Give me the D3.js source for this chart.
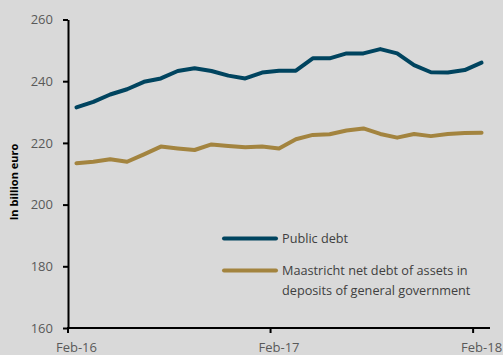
<!DOCTYPE html>
<html>
<head>
<meta charset="utf-8">
<script src="https://cdn.jsdelivr.net/npm/d3@7"></script>
<style>
  body { margin: 0; background: #d9d9d9; }
  svg { display: block; font-family: "Open Sans", sans-serif; }
</style>
</head>
<body>
<div id="chart"></div>
<script>
"use strict";

// data
var months = ["Feb-16","Mar-16","Apr-16","May-16","Jun-16","Jul-16","Aug-16","Sep-16","Oct-16","Nov-16","Dec-16","Jan-17",
    "Feb-17","Mar-17","Apr-17","May-17","Jun-17","Jul-17","Aug-17","Sep-17","Oct-17","Nov-17","Dec-17","Jan-18","Feb-18"];
var publicDebt = [231.5, 233.3, 235.7, 237.4, 239.8, 240.9, 243.3, 244.2, 243.3, 241.8, 240.9, 242.8,
    243.4, 243.4, 247.4, 247.4, 249.0, 249.0, 250.4, 249.0, 245.2, 242.9, 242.8, 243.6, 246.0];
var netDebt = [213.4, 213.9, 214.7, 213.9, 216.3, 218.8, 218.2, 217.7, 219.5, 219.0, 218.6, 218.8,
    218.2, 221.2, 222.6, 222.8, 224.0, 224.7, 222.9, 221.7, 222.9, 222.2, 222.9, 223.2, 223.3];
var yTicks = [160, 180, 200, 220, 240, 260];
var xLabels = ["Feb-16", "Feb-17", "Feb-18"];

var series = [
    { name: "Public debt", values: publicDebt, color: "#00445f" },
    { name: "Maastricht net debt of assets in|deposits of general government", values: netDebt, color: "#a3843f" }
];

var W = 503, H = 355;

var svg = d3.select("#chart")
    .append("svg")
    .attr("width", W)
    .attr("height", H);

svg.append("rect").attr("width", W).attr("height", H).attr("fill", "#d9d9d9");

// scales
var x = d3.scaleBand()
    .domain(months)
    .range([68, 490])
    .padding(0);

var y = d3.scaleLinear()
    .domain([160, 260])
    .range([328, 19.5]);

var cx = d => x(d) + x.bandwidth() / 2;

// y axis
var yAxis = svg.append("g")
    .attr("transform", "translate(68,0)")
    .call(d3.axisLeft(y).tickValues(yTicks).tickSize(5).tickPadding(10).tickSizeOuter(0));
yAxis.select(".domain").attr("stroke", "#000").attr("stroke-width", 2);
yAxis.selectAll(".tick line").attr("stroke", "#000").attr("stroke-width", 2);
yAxis.selectAll("text")
    .attr("fill", "#595959")
    .style("font-size", "13px")
    .style("font-family", "Open Sans");

// x axis line
svg.append("line")
    .attr("x1", 67).attr("x2", 490)
    .attr("y1", y(160)).attr("y2", y(160))
    .attr("stroke", "#000").attr("stroke-width", 2);

// x ticks at band edges
svg.selectAll(".xtick")
    .data(xLabels)
    .join("line")
    .attr("class", "xtick")
    .attr("x1", d => x(d)).attr("x2", d => x(d))
    .attr("y1", y(160)).attr("y2", y(160) + 5)
    .attr("stroke", "#000").attr("stroke-width", 2);

svg.selectAll(".xlabel")
    .data(xLabels)
    .join("text")
    .attr("class", "xlabel")
    .attr("x", d => cx(d))
    .attr("y", 352)
    .attr("text-anchor", "middle")
    .attr("fill", "#595959")
    .style("font-size", "13px")
    .text(d => d);

// y axis title
svg.append("text")
    .attr("transform", "translate(18,182) rotate(-90)")
    .attr("text-anchor", "middle")
    .attr("fill", "#000")
    .style("font-size", "11px")
    .style("font-weight", "bold")
    .text("In billion euro");

// lines
var line = d3.line()
    .x((d, i) => cx(months[i]))
    .y(d => y(d));

svg.selectAll(".series")
    .data(series)
    .join("path")
    .attr("class", "series")
    .attr("fill", "none")
    .attr("stroke", d => d.color)
    .attr("stroke-width", 4)
    .attr("stroke-linejoin", "round")
    .attr("stroke-linecap", "round")
    .attr("d", d => line(d.values));

// legend
var legendY = [238.5, 270.5];
var legend = svg.selectAll(".legend")
    .data(series)
    .join("g")
    .attr("class", "legend")
    .attr("transform", (d, i) => `translate(224,${legendY[i]})`);

legend.append("line")
    .attr("x1", 0).attr("x2", 52)
    .attr("stroke", d => d.color)
    .attr("stroke-width", 4)
    .attr("stroke-linecap", "round");

legend.append("text")
    .attr("x", 58)
    .attr("y", 4.5)
    .attr("fill", "#404040")
    .style("font-size", "12.7px")
    .selectAll("tspan")
    .data(d => d.name.split("|"))
    .join("tspan")
    .attr("x", 58)
    .attr("dy", (d, i) => i === 0 ? 0 : 19.5)
    .text(d => d);
</script>
</body>
</html>
